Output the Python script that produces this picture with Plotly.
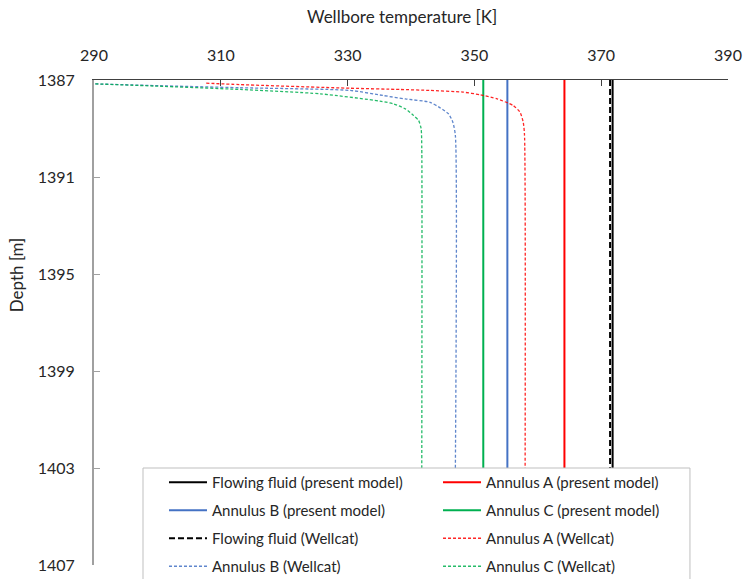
import plotly.graph_objects as go

# Depth interval of the completion section [m]
depth_top = 1387
depth_bottom = 1403

# Present model: steady temperatures along the interval [K]
present_names = ["Flowing fluid (present model)", "Annulus A (present model)",
                 "Annulus B (present model)", "Annulus C (present model)"]
present_temp = [371.8, 364.2, 355.2, 351.4]

# Wellcat: flowing fluid temperature [K]
wellcat_ff_temp = 371.4

# Wellcat annulus profiles (temperature [K], depth [m])
wc_a_temp = [307.7, 313.0, 330.4, 338.3, 343.0, 348.2, 350.9, 353.6, 356.1, 357.2, 357.7, 357.9, 358.0]
wc_a_depth = [1387.13, 1387.19, 1387.34, 1387.39, 1387.43, 1387.50, 1387.61, 1387.78, 1388.05, 1388.33, 1388.74, 1389.25, 1403.0]

wc_b_temp = [290.2, 299.6, 313.0, 330.4, 335.6, 339.1, 343.0, 344.6, 345.9, 346.6, 347.0, 347.0]
wc_b_depth = [1387.16, 1387.23, 1387.32, 1387.43, 1387.64, 1387.78, 1387.92, 1388.15, 1388.39, 1388.74, 1389.29, 1403.0]

wc_c_temp = [290.2, 299.6, 313.0, 325.7, 335.1, 337.2, 339.1, 340.4, 341.2, 341.6, 341.7, 341.7]
wc_c_depth = [1387.16, 1387.25, 1387.39, 1387.57, 1387.87, 1387.98, 1388.19, 1388.46, 1388.67, 1389.01, 1389.82, 1403.0]

x_ticks = [290, 310, 330, 350, 370, 390]
y_ticks = [1387, 1391, 1395, 1399, 1403, 1407]

colors = ["#000000", "#FF0000", "#4472C4", "#00B050"]
# legend column for each present-model series
present_legend = ["legend", "legend2", "legend", "legend2"]

fig = go.Figure()

for i, (name, t, c, lg) in enumerate(zip(present_names, present_temp, colors, present_legend)):
    fig.add_trace(go.Scatter(x=[t, t], y=[depth_top, depth_bottom], mode="lines",
                             name=name, legend=lg, legendgroup=f"p{i}",
                             line=dict(color=c, width=2)))

fig.add_trace(go.Scatter(x=[wellcat_ff_temp, wellcat_ff_temp], y=[depth_top, depth_bottom],
                         mode="lines", name="Flowing fluid (Wellcat)", legend="legend", legendgroup="w0",
                         line=dict(color="#000000", width=2, dash="6px,3px")))
fig.add_trace(go.Scatter(x=wc_a_temp, y=wc_a_depth, mode="lines", name="Annulus A (Wellcat)",
                         legend="legend2", legendgroup="w1", opacity=0.85,
                         line=dict(color="#FF0000", width=1.3, dash="3px,2px", shape="spline", smoothing=0.6)))
fig.add_trace(go.Scatter(x=wc_b_temp, y=wc_b_depth, mode="lines", name="Annulus B (Wellcat)",
                         legend="legend", legendgroup="w2", opacity=0.85,
                         line=dict(color="#4472C4", width=1.3, dash="3px,2px", shape="spline", smoothing=0.6)))
fig.add_trace(go.Scatter(x=wc_c_temp, y=wc_c_depth, mode="lines", name="Annulus C (Wellcat)",
                         legend="legend2", legendgroup="w3", opacity=0.85,
                         line=dict(color="#00B050", width=1.3, dash="3px,2px", shape="spline", smoothing=0.6)))

font = "Lato, 'Open Sans', sans-serif"
legend_style = dict(
    orientation="v", yanchor="top", xanchor="left", itemwidth=38,
    tracegroupgap=5.5, bgcolor="rgba(0,0,0,0)", borderwidth=0,
    font=dict(family=font, size=15, color="#262626"),
)

fig.update_layout(
    width=743, height=579,
    margin=dict(l=94, r=15, t=80, b=14, autoexpand=False),
    paper_bgcolor="white", plot_bgcolor="white",
    font=dict(family=font, size=16, color="#262626"),
    showlegend=True,
    legend=dict(x=0.1104, y=0.2041, **legend_style),
    legend2=dict(x=0.5426, y=0.2041, **legend_style),
    xaxis=dict(
        side="top", range=[290, 390], tickvals=x_ticks, showgrid=False, zeroline=False,
        showline=True, linecolor="#404040", linewidth=1,
        ticks="inside", ticklen=6, tickcolor="#404040", ticklabelstandoff=12,
    ),
    yaxis=dict(
        range=[1407, 1387], tickvals=y_ticks, showgrid=False, zeroline=False,
        showline=True, linecolor="#A0A0A0", linewidth=2,
        ticks="inside", ticklen=6, tickcolor="#A0A0A0", ticklabelstandoff=14,
    ),
    shapes=[
        # legend frame
        dict(type="rect", xref="paper", yref="paper", x0=0.0773, x1=0.940, y0=0.2, y1=-0.08,
             line=dict(color="#BFBFBF", width=1), fillcolor="white", layer="above"),
    ],
    annotations=[
        dict(text="Wellbore temperature [K]", xref="paper", yref="paper",
             x=0.486, y=1.13, xanchor="center", yanchor="middle", showarrow=False,
             font=dict(family=font, size=17, color="#262626")),
        dict(text="Depth [m]", xref="paper", yref="paper", textangle=-90,
             x=-0.121, y=0.598, xanchor="center", yanchor="middle", showarrow=False,
             font=dict(family=font, size=17, color="#262626")),
    ],
)

fig.write_html("out.html")
